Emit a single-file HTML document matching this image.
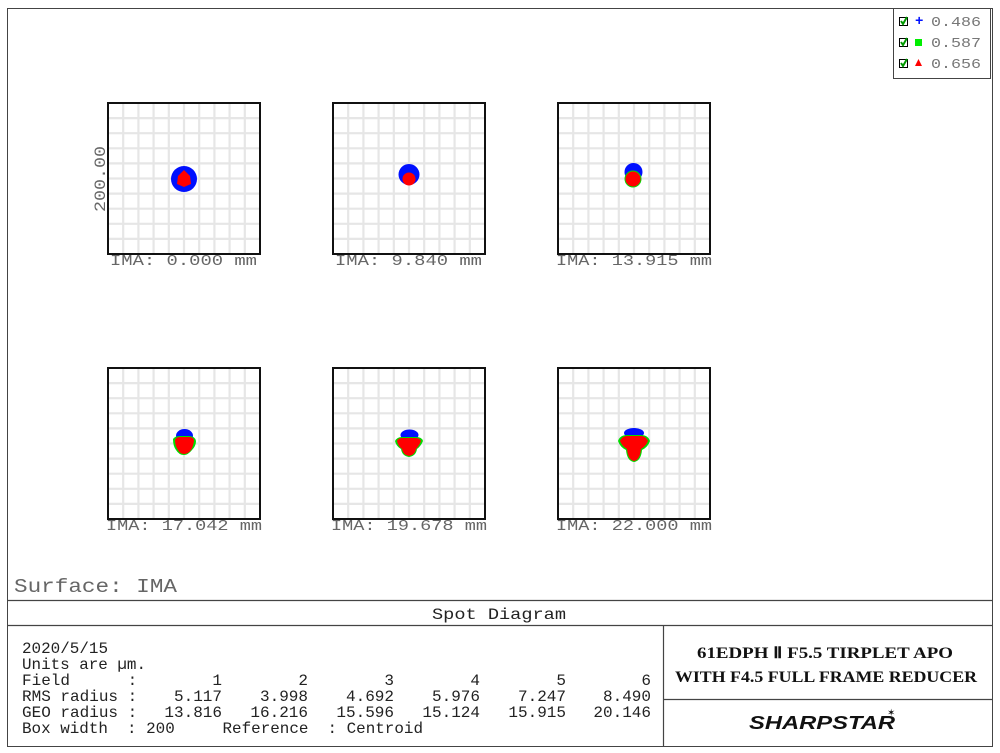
<!DOCTYPE html>
<html><head><meta charset="utf-8"><style>
html,body{margin:0;padding:0;background:#fff;}
svg{display:block;}
text{font-family:"Liberation Mono",monospace;}
</style></head><body>
<svg width="1000" height="753" viewBox="0 0 1000 753" xmlns="http://www.w3.org/2000/svg">
<rect x="7.5" y="8.5" width="985" height="738" fill="#fff" stroke="#444" stroke-width="1"/>
<g id="grids" stroke="#e6e6e6" stroke-width="2.2" fill="none">
<path d="M123.2 103V254M138.4 103V254M153.6 103V254M168.8 103V254M184 103V254M199.2 103V254M214.4 103V254M229.6 103V254M244.8 103V254M108 118.1H260M108 133.2H260M108 148.3H260M108 163.4H260M108 178.5H260M108 193.6H260M108 208.7H260M108 223.8H260M108 238.9H260"/>
<path transform="translate(225,0)" d="M123.2 103V254M138.4 103V254M153.6 103V254M168.8 103V254M184 103V254M199.2 103V254M214.4 103V254M229.6 103V254M244.8 103V254M108 118.1H260M108 133.2H260M108 148.3H260M108 163.4H260M108 178.5H260M108 193.6H260M108 208.7H260M108 223.8H260M108 238.9H260"/>
<path transform="translate(450,0)" d="M123.2 103V254M138.4 103V254M153.6 103V254M168.8 103V254M184 103V254M199.2 103V254M214.4 103V254M229.6 103V254M244.8 103V254M108 118.1H260M108 133.2H260M108 148.3H260M108 163.4H260M108 178.5H260M108 193.6H260M108 208.7H260M108 223.8H260M108 238.9H260"/>
<path transform="translate(0,265)" d="M123.2 103V254M138.4 103V254M153.6 103V254M168.8 103V254M184 103V254M199.2 103V254M214.4 103V254M229.6 103V254M244.8 103V254M108 118.1H260M108 133.2H260M108 148.3H260M108 163.4H260M108 178.5H260M108 193.6H260M108 208.7H260M108 223.8H260M108 238.9H260"/>
<path transform="translate(225,265)" d="M123.2 103V254M138.4 103V254M153.6 103V254M168.8 103V254M184 103V254M199.2 103V254M214.4 103V254M229.6 103V254M244.8 103V254M108 118.1H260M108 133.2H260M108 148.3H260M108 163.4H260M108 178.5H260M108 193.6H260M108 208.7H260M108 223.8H260M108 238.9H260"/>
<path transform="translate(450,265)" d="M123.2 103V254M138.4 103V254M153.6 103V254M168.8 103V254M184 103V254M199.2 103V254M214.4 103V254M229.6 103V254M244.8 103V254M108 118.1H260M108 133.2H260M108 148.3H260M108 163.4H260M108 178.5H260M108 193.6H260M108 208.7H260M108 223.8H260M108 238.9H260"/>
</g>
<g fill="none" stroke="#111" stroke-width="2">
<rect x="108" y="103" width="152" height="151"/>
<rect x="333" y="103" width="152" height="151"/>
<rect x="558" y="103" width="152" height="151"/>
<rect x="108" y="368" width="152" height="151"/>
<rect x="333" y="368" width="152" height="151"/>
<rect x="558" y="368" width="152" height="151"/>
</g>
<!-- spots -->
<circle cx="184" cy="179" r="13" fill="#0010ff"/>
<path d="M184 170 L190 176 L191 184 L184 187 L177 184 L178 176Z" fill="#ff0000"/>
<circle cx="409" cy="174.5" r="10.5" fill="#0010ff"/>
<circle cx="409" cy="179" r="6.5" fill="#ff0000"/>
<circle cx="633.5" cy="172" r="9" fill="#0010ff"/>
<circle cx="633" cy="179" r="8.5" fill="#00dd00"/>
<circle cx="633" cy="179" r="7.5" fill="#ff0000"/>
<!-- bottom -->
<ellipse cx="184.5" cy="436" rx="8.5" ry="7" fill="#0010ff"/>
<path d="M173 439 Q175 436 180 436 L189 436 Q195 436 196 441 Q196 446 192 450 Q188 455 184 455 Q179 455 176 450 Q173 446 173 439Z" fill="#00dd00"/>
<path d="M175 440 Q176 437 180 437 L189 437 Q194 437 194 441 Q193 447 191 450 Q188 454 184 454 Q180 454 178 450 Q175 446 175 440Z" fill="#ff0000"/>
<ellipse cx="409.5" cy="435" rx="9" ry="5.5" fill="#0010ff"/>
<path d="M395 441 Q397 437 402 437 L416 437 Q422 437 423 441 Q421 446 417 449 Q416 456 409 457 Q402 456 401 449 Q396 446 395 441Z" fill="#00dd00"/>
<path d="M397 441 Q398 438 402 438 L416 438 Q420 438 421 441 Q419 446 416 449 Q415 455 409 456 Q403 455 402 449 Q398 446 397 441Z" fill="#ff0000"/>
<ellipse cx="634" cy="433" rx="10" ry="5" fill="#0010ff"/>
<path d="M618 441 Q620 435 627 435 L641 435 Q648 435 650 441 Q648 447 642 450 Q641 461 634 462 Q627 461 626 450 Q620 447 618 441Z" fill="#00dd00"/>
<path d="M620 441 Q622 436 627 436 L641 436 Q646 436 648 441 Q646 446 641 449 Q640 460 634 461 Q628 460 627 449 Q622 446 620 441Z" fill="#ff0000"/>
<!-- labels -->
<g fill="#666" font-size="15">
<text x="110" y="265" textLength="147" lengthAdjust="spacingAndGlyphs">IMA: 0.000 mm</text>
<text x="335" y="265" textLength="147" lengthAdjust="spacingAndGlyphs">IMA: 9.840 mm</text>
<text x="556" y="265" textLength="156" lengthAdjust="spacingAndGlyphs">IMA: 13.915 mm</text>
<text x="106" y="530" textLength="156" lengthAdjust="spacingAndGlyphs">IMA: 17.042 mm</text>
<text x="331" y="530" textLength="156" lengthAdjust="spacingAndGlyphs">IMA: 19.678 mm</text>
<text x="556" y="530" textLength="156" lengthAdjust="spacingAndGlyphs">IMA: 22.000 mm</text>
<text transform="translate(105,212) rotate(-90)" textLength="66" lengthAdjust="spacingAndGlyphs" font-size="16">200.00</text>
<text x="14" y="592" font-size="19" textLength="163" lengthAdjust="spacingAndGlyphs">Surface: IMA</text>
</g>
<!-- legend -->
<rect x="893.5" y="8.5" width="97" height="70" fill="#fff" stroke="#444"/>
<g font-size="14" fill="#777">
<rect x="899.5" y="17.5" width="8" height="8" fill="#fff" stroke="#000"/><path d="M901 21 L903 24 L907 17" stroke="#090" stroke-width="2" fill="none"/>
<text x="915" y="25" fill="#0010ff" font-size="14" font-weight="bold">+</text><text x="931" y="26" textLength="50" lengthAdjust="spacingAndGlyphs">0.486</text>
<rect x="899.5" y="38.5" width="8" height="8" fill="#fff" stroke="#000"/><path d="M901 42 L903 45 L907 38" stroke="#090" stroke-width="2" fill="none"/>
<rect x="915" y="39" width="7" height="7" fill="#00ee00"/><text x="931" y="47" textLength="50" lengthAdjust="spacingAndGlyphs">0.587</text>
<rect x="899.5" y="59.5" width="8" height="8" fill="#fff" stroke="#000"/><path d="M901 63 L903 66 L907 59" stroke="#090" stroke-width="2" fill="none"/>
<path d="M918.5 59 L922 66 L915 66Z" fill="#ff0000"/><text x="931" y="68" textLength="50" lengthAdjust="spacingAndGlyphs">0.656</text>
</g>
<!-- bottom panel -->
<g stroke="#444" stroke-width="1.2">
<line x1="7" y1="600.5" x2="993" y2="600.5"/>
<line x1="7" y1="625.5" x2="993" y2="625.5"/>
<line x1="663.5" y1="626" x2="663.5" y2="747"/>
<line x1="663" y1="699.5" x2="993" y2="699.5"/>
</g>
<text x="432" y="619" font-size="16" fill="#222" textLength="134" lengthAdjust="spacingAndGlyphs">Spot Diagram</text>
<g font-size="16" fill="#222">
<text x="22" y="653" textLength="86" lengthAdjust="spacingAndGlyphs">2020/5/15</text>
<text x="22" y="669" textLength="124" lengthAdjust="spacingAndGlyphs">Units are µm.</text>
<text x="22" y="685" xml:space="preserve">Field      :</text>
<text x="22" y="701">RMS radius :</text>
<text x="22" y="717">GEO radius :</text>
<text x="22" y="733" xml:space="preserve" textLength="401" lengthAdjust="spacingAndGlyphs">Box width  : 200     Reference  : Centroid</text>
<g text-anchor="end">
<text x="222" y="685">1</text><text x="308" y="685">2</text><text x="394" y="685">3</text><text x="480" y="685">4</text><text x="566" y="685">5</text><text x="651" y="685">6</text>
<text x="222" y="701">5.117</text><text x="308" y="701">3.998</text><text x="394" y="701">4.692</text><text x="480" y="701">5.976</text><text x="566" y="701">7.247</text><text x="651" y="701">8.490</text>
<text x="222" y="717">13.816</text><text x="308" y="717">16.216</text><text x="394" y="717">15.596</text><text x="480" y="717">15.124</text><text x="566" y="717">15.915</text><text x="651" y="717">20.146</text>
</g>
</g>
<g font-weight="bold" font-size="16" fill="#111" text-anchor="middle">
<text x="825" y="658" style="font-family:'Liberation Serif',serif" textLength="256" lengthAdjust="spacingAndGlyphs">61EDPH Ⅱ  F5.5 TIRPLET APO</text>
<text x="826" y="682" style="font-family:'Liberation Serif',serif" textLength="302" lengthAdjust="spacingAndGlyphs">WITH F4.5 FULL FRAME REDUCER</text>
</g>
<text x="822" y="729" text-anchor="middle" font-size="18" font-weight="bold" font-style="italic" fill="#111" style="font-family:'Liberation Sans',sans-serif" textLength="146" lengthAdjust="spacingAndGlyphs">SHARPSTAR</text>
<text x="887" y="716" font-size="10" fill="#111" style="font-family:'DejaVu Sans',sans-serif">✶</text>
</svg>
</body></html>
